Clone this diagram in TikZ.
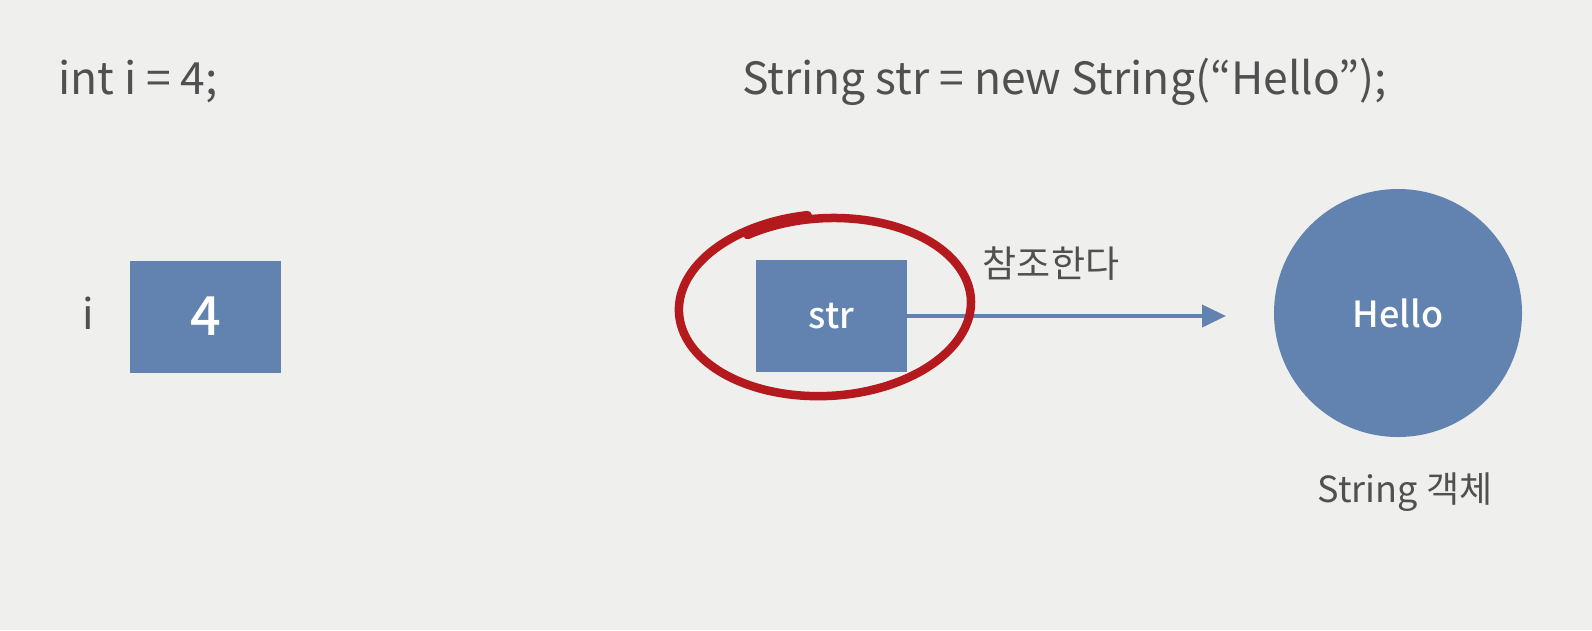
\documentclass[tikz,border=0pt]{standalone}
\usepackage{fontspec}
\setmainfont{Noto Sans CJK KR}
\newfontfamily\medfont{Noto Sans CJK KR Medium}
\usetikzlibrary{arrows.meta}
\definecolor{bgc}{HTML}{EFEFED}
\definecolor{boxc}{HTML}{6283B0}
\definecolor{txtc}{HTML}{505050}
\definecolor{penc}{HTML}{B3191D}
\tikzset{
  code/.style={text=txtc, anchor=base west, inner sep=0pt, font=\fontsize{44.4}{50}\selectfont},
  label/.style={text=txtc, inner sep=0pt, font=\fontsize{37}{44}\selectfont},
  valbox/.style={fill=boxc, draw=none, minimum width=151pt, minimum height=112pt, inner sep=0pt, text=white},
  objcircle/.style={circle, fill=boxc, draw=none, minimum size=248pt, inner sep=0pt, text=white, font=\medfont\fontsize{36}{42}\selectfont},
  refarrow/.style={draw=boxc, line width=4pt, -{Triangle[length=24pt,width=22pt]}},
  pen/.style={draw=penc, line width=8.5pt, line cap=round, line join=round}
}
\begin{document}
\begin{tikzpicture}[x=1pt, y=-1pt]
  % canvas
  \fill[bgc] (0,0) rectangle (1592,630);
  \useasboundingbox (0,0) rectangle (1592,630);

  % primitive variable
  \node[code] (decl1) at (58,94) {int i = 4;};
  \node[label, font=\fontsize{42}{48}\selectfont] (iname) at (88,313) {i};
  \node[valbox, font=\medfont\fontsize{54}{60}\selectfont] (ibox) at (205.5,316.5) {4};

  % reference variable
  \node[code] (decl2) at (742,94) {String str = new String(“Hello”);};
  \node[valbox, font=\medfont\fontsize{36}{42}\selectfont] (strbox) at (831.5,316) {str};
  \node[objcircle] (obj) at (1398,313) {Hello};
  \coordinate (tip) at (1226,316);
  \draw[refarrow] (strbox.east) -- (tip);
  \node[label] (refl) at (1051,264) {참조한다};
  \node[label, font=\fontsize{36}{42}\selectfont] (objl) at (1405,492) {String 객체};

  % hand-drawn loop around the reference, overlapping at the top
  \draw[pen] plot[domain=-122:264, samples=120, smooth]
    ({826 + 148*(0.97+0.03*(\x+122)/386)*cos(\x) + 3*sin(\x)},
     {306 + 92*(0.95+0.05*(\x+122)/386)*sin(\x) - 6*cos(\x)});
\end{tikzpicture}
\end{document}
